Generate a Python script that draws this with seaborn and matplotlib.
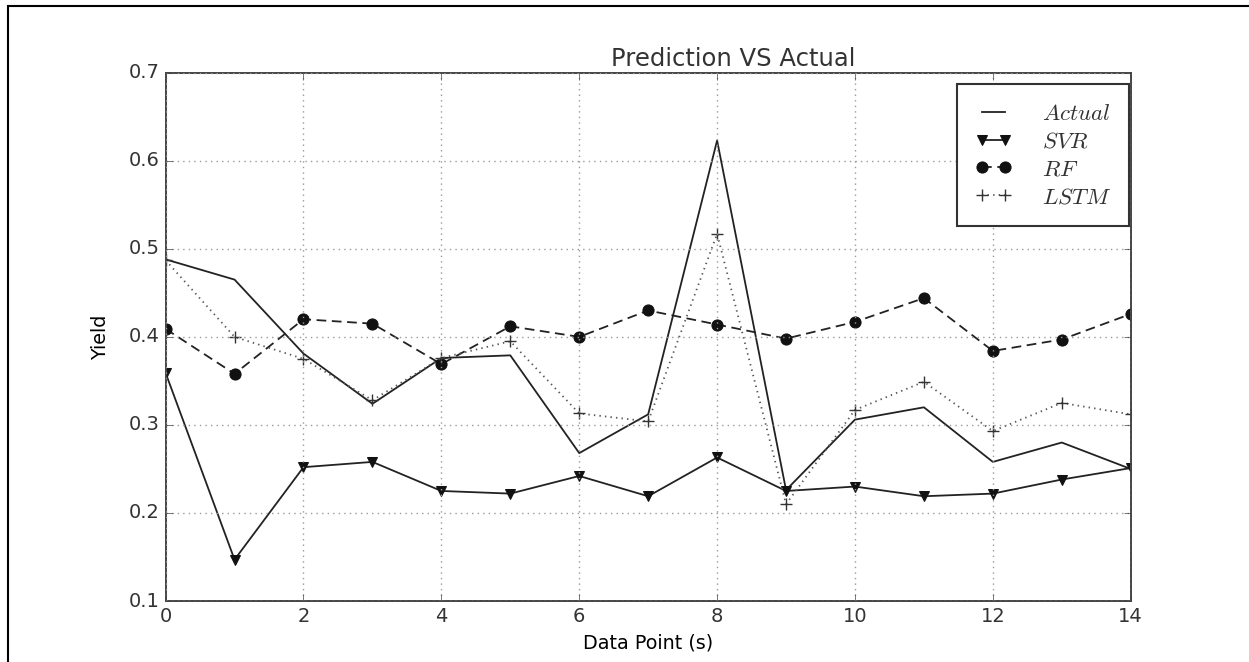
import matplotlib
matplotlib.use("Agg")
import matplotlib.pyplot as plt
import seaborn as sns
from matplotlib.patches import Rectangle

x_points = list(range(15))
actual = [0.488, 0.465, 0.381, 0.324, 0.376, 0.379, 0.268, 0.312, 0.623,
          0.226, 0.306, 0.320, 0.258, 0.280, 0.250]
svr = [0.359, 0.147, 0.252, 0.258, 0.225, 0.222, 0.242, 0.219, 0.263,
       0.225, 0.230, 0.219, 0.222, 0.238, 0.251]
rf = [0.409, 0.358, 0.420, 0.415, 0.369, 0.412, 0.400, 0.430, 0.414,
      0.398, 0.417, 0.444, 0.384, 0.397, 0.426]
lstm = [0.487, 0.400, 0.375, 0.328, 0.376, 0.395, 0.313, 0.304, 0.517,
        0.210, 0.317, 0.349, 0.293, 0.325, 0.312]

x_ticks = [0, 2, 4, 6, 8, 10, 12, 14]
y_ticks = [0.1, 0.2, 0.3, 0.4, 0.5, 0.6, 0.7]

plt.style.use("classic")
plt.rcParams.update({
    "figure.facecolor": "white",
    "savefig.facecolor": "white",
    "font.family": ["DejaVu Sans"],
    "mathtext.fontset": "cm",
    "axes.edgecolor": "#444444",
    "axes.linewidth": 1.4,
    "xtick.color": "#444444",
    "ytick.color": "#444444",
    "xtick.labelcolor": "#333333",
    "ytick.labelcolor": "#333333",
    "text.color": "#333333",
})

fig = plt.figure(figsize=(12.49, 6.62), dpi=100)
ax = fig.add_axes([0.1326, 0.0921, 0.7727, 0.7981])

sns.lineplot(x=x_points, y=actual, ax=ax, color="#222222", linewidth=1.3,
             linestyle="-", label="$Actual$")
sns.lineplot(x=x_points, y=svr, ax=ax, color="#222222", linewidth=1.3,
             linestyle="-", marker="v", markersize=7,
             markeredgecolor="#111111", markerfacecolor="#111111",
             label="$SVR$")
sns.lineplot(x=x_points, y=rf, ax=ax, color="#222222", linewidth=1.3,
             linestyle=(0, (7, 4)), marker="o", markersize=8,
             markeredgecolor="#111111", markerfacecolor="#111111",
             label="$RF$")
sns.lineplot(x=x_points, y=lstm, ax=ax, color="#555555", linewidth=1.3,
             linestyle=":", marker="+", markersize=9, markeredgewidth=1.0,
             markeredgecolor="#333333", label="$LSTM$")

ax.set_xlim(0, 14)
ax.set_ylim(0.1, 0.7)
ax.set_xticks(x_ticks)
ax.set_yticks(y_ticks)
ax.set_yticklabels([f"{v:.1f}" for v in y_ticks])
ax.tick_params(labelsize=14, direction="in", length=5, top=True, right=True)
ax.grid(True, color="#999999", linestyle=":", linewidth=1.0)

ax.set_title("Prediction VS Actual", fontsize=17.5, x=0.588, y=1.0)
ax.set_xlabel("Data Point (s)", fontsize=13.8, labelpad=6)
ax.set_ylabel("Yield", fontsize=13.8, labelpad=14)

leg = ax.legend(loc="upper right", bbox_to_anchor=(0.9983, 0.9786),
                borderaxespad=0, fontsize=16.5, numpoints=2, handlelength=1.6,
                handletextpad=1.3, labelspacing=0.2, borderpad=0.8,
                fancybox=False, frameon=True)
leg.get_frame().set_edgecolor("#333333")
leg.get_frame().set_linewidth(1.5)

fig.add_artist(Rectangle((8 / 1249, -0.1), 1.2, 1.1 - 6 / 662,
                         transform=fig.transFigure, fill=False,
                         edgecolor="black", linewidth=1.5))

fig.savefig("out.png", dpi=100)
